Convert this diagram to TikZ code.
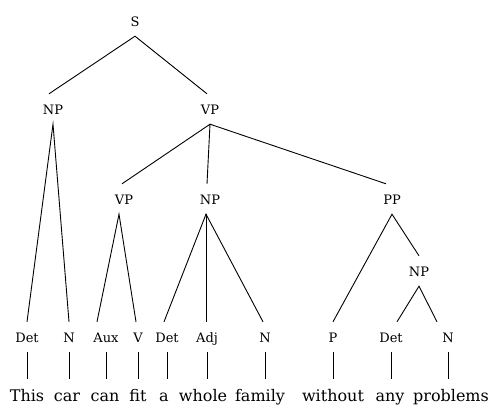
\documentclass[tikz,border=0pt]{standalone}
\usepackage{fontspec}
\setmainfont{DejaVu Serif}
\begin{document}
\begin{tikzpicture}[x=1pt,y=-1pt,
  cat/.style={font=\fontsize{13}{15}\selectfont, anchor=base,
    inner xsep=0pt, inner ysep=10pt, text height=10pt, text depth=0pt},
  word/.style={font=\fontsize{16}{18}\selectfont, anchor=base,
    inner sep=0pt, text height=12pt, text depth=3.5pt},
  branch/.style={line width=0.9pt}]
\useasboundingbox (0,0) rectangle (491,405);

% phrase categories
\node[cat] (s)   at (135,26)  {S};
\node[cat] (np)  at (53,114)  {NP};
\node[cat] (vp)  at (210,114) {VP};
\node[cat] (vpa) at (124,204) {VP};
\node[cat] (npb) at (210,204) {NP};
\node[cat] (pp)  at (392,204) {PP};
\node[cat] (npc) at (419,276) {NP};

% word categories
\node[cat] (det1) at (27,342)  {Det};
\node[cat] (n1)   at (69,342)  {N};
\node[cat] (aux)  at (106,342) {Aux};
\node[cat] (v)    at (138,342) {V};
\node[cat] (det2) at (167,342) {Det};
\node[cat] (adj)  at (207,342) {Adj};
\node[cat] (n2)   at (265,342) {N};
\node[cat] (p)    at (333,342) {P};
\node[cat] (det3) at (391,342) {Det};
\node[cat] (n3)   at (448,342) {N};

% words
\node[word] (w1)  at (27,401)  {This};
\node[word] (w2)  at (67,401)  {car};
\node[word] (w3)  at (105,401) {can};
\node[word] (w4)  at (138,401) {fit};
\node[word] (w5)  at (164,401) {a};
\node[word] (w6)  at (203,401) {whole};
\node[word] (w7)  at (260,401) {family};
\node[word] (w8)  at (333,401) {without};
\node[word] (w9)  at (390,401) {any};
\node[word] (w10) at (451,401) {problems};

% branches
\draw[branch] ([xshift=-4pt]np.north) -- (s.south) -- ([xshift=-3pt]vp.north);
\draw[branch] (det1.north) -- (np.south) -- (n1.north);
\draw[branch] ([xshift=-2pt]vpa.north) -- (vp.south) -- ([xshift=-6pt]pp.north);
\draw[branch] (vp.south) -- ([xshift=-3pt]npb.north);
\draw[branch] ([xshift=-9pt]aux.north) -- ([xshift=-5pt]vpa.south) -- ([xshift=-2pt]v.north);
\draw[branch] ([xshift=-3pt]det2.north) -- ([xshift=-4pt]npb.south) -- ([xshift=-2pt]n2.north);
\draw[branch] ([xshift=-4pt]npb.south) -- ([xshift=-1pt]adj.north);
\draw[branch] (p.north) -- (pp.south) -- (npc.north);
\draw[branch] ([xshift=6pt]det3.north) -- (npc.south) -- ([xshift=-11pt]n3.north);

% lexical links
\foreach \c/\w in {det1/w1, n1/w2, aux/w3, v/w4, det2/w5, adj/w6, n2/w7, p/w8, det3/w9, n3/w10}
  \draw[branch, shorten >=10pt] (\c.south) -- (\c.south |- \w.north);
\end{tikzpicture}
\end{document}
